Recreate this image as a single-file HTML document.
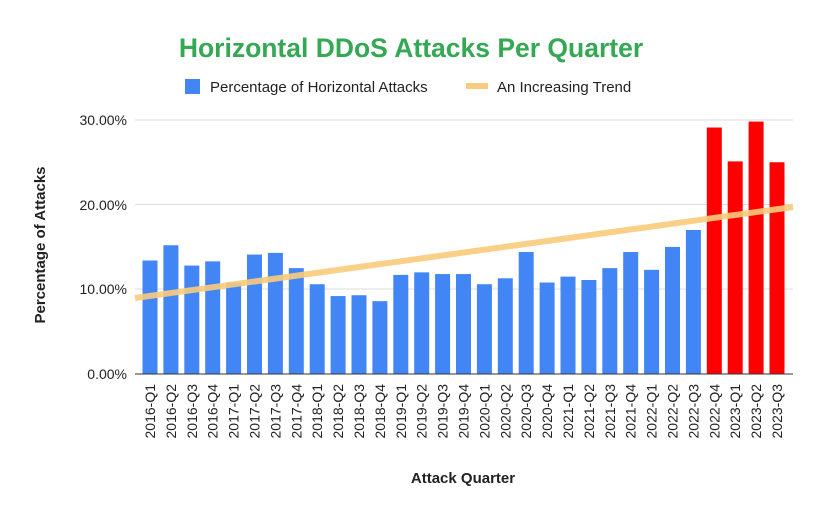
<!DOCTYPE html>
<html><head><meta charset="utf-8"><style>body{margin:0;background:#fff}</style></head>
<body>
<svg width="835" height="508" xmlns="http://www.w3.org/2000/svg" font-family="Liberation Sans, Arial, sans-serif">
<rect width="835" height="508" fill="#fff"/>
<text x="411" y="57" text-anchor="middle" font-size="26.5" font-weight="bold" fill="#34a853">Horizontal DDoS Attacks Per Quarter</text>
<rect x="185" y="79" width="15" height="15" fill="#4285f4"/>
<text x="210" y="92" font-size="15" fill="#222">Percentage of Horizontal Attacks</text>
<line x1="466" y1="86" x2="488" y2="86" stroke="#f9cb7c" stroke-width="6"/>
<text x="497" y="92" font-size="15" fill="#222">An Increasing Trend</text>
<g stroke="#ddd" stroke-width="1">
<line x1="135" y1="120" x2="793" y2="120"/><line x1="135" y1="204.5" x2="793" y2="204.5"/><line x1="135" y1="289" x2="793" y2="289"/>
</g>
<g font-size="14" fill="#222" text-anchor="end">
<text x="127" y="125">30.00%</text><text x="127" y="210">20.00%</text><text x="127" y="294">10.00%</text><text x="127" y="379">0.00%</text>
</g>
<text transform="translate(45,245) rotate(-90)" text-anchor="middle" font-size="15" font-weight="bold" fill="#222">Percentage of Attacks</text>
<text x="463" y="483" text-anchor="middle" font-size="15" font-weight="bold" fill="#222">Attack Quarter</text>
<g id="bars"></g>
<line x1="135" y1="374" x2="793" y2="374" stroke="#333" stroke-width="1"/>
<line x1="135" y1="298" x2="793" y2="207" stroke="#f9cb7c" stroke-width="6" opacity="0.9"/>
<g id="labels" font-size="14" fill="#222"></g>
</svg>
<script>
var v=[13.4,15.2,12.8,13.3,10.8,14.1,14.3,12.5,10.6,9.2,9.3,8.6,11.7,12.0,11.8,11.8,10.6,11.3,14.4,10.8,11.5,11.1,12.5,14.4,12.3,15.0,17.0,29.1,25.1,29.8,25.0];
var n=["2016-Q1","2016-Q2","2016-Q3","2016-Q4","2017-Q1","2017-Q2","2017-Q3","2017-Q4","2018-Q1","2018-Q2","2018-Q3","2018-Q4","2019-Q1","2019-Q2","2019-Q3","2019-Q4","2020-Q1","2020-Q2","2020-Q3","2020-Q4","2021-Q1","2021-Q2","2021-Q3","2021-Q4","2022-Q1","2022-Q2","2022-Q3","2022-Q4","2023-Q1","2023-Q2","2023-Q3"];
var ns="http://www.w3.org/2000/svg",b=document.getElementById("bars"),l=document.getElementById("labels");
for(var i=0;i<31;i++){var cx=150+i*20.9,h=v[i]*8.47;
var r=document.createElementNS(ns,"rect");r.setAttribute("x",cx-7.5);r.setAttribute("y",374-h);r.setAttribute("width",15);r.setAttribute("height",h);r.setAttribute("fill",i>=27?"#ff0000":"#4285f4");b.appendChild(r);
var t=document.createElementNS(ns,"text");t.setAttribute("transform","translate("+(cx+5)+",384) rotate(-90)");t.setAttribute("text-anchor","end");t.textContent=n[i];l.appendChild(t);}
</script>
</body></html>
